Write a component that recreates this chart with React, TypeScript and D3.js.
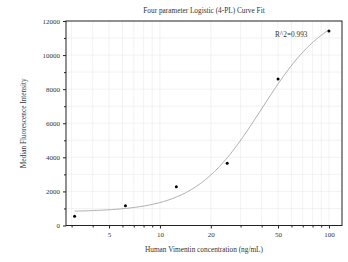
import React, { useEffect, useRef } from 'react';
import * as d3 from 'd3';

// measured standards
const concentrations = [3.125, 6.25, 12.5, 25, 50, 100];
const intensities = [540, 1160, 2280, 3650, 8600, 11410];

// 4-PL fit parameters (bottom, top, ec50, hill slope)
const fitBottom = 800;
const fitTop = 12900;
const fitC = 40;
const fitB = 2.2;

const xTickLabels = [5, 10, 20, 50, 100];
const xMinorTicks = [3, 4, 6, 7, 8, 9, 30, 40, 60, 70, 80, 90];
const yTickLabels = [0, 2000, 4000, 6000, 8000, 10000, 12000];
const yMinorTicks = [1000, 3000, 5000, 7000, 9000, 11000];
const gridX = [3, 4, 5, 6, 7, 8, 9, 10, 20, 30, 40, 50, 60, 70, 80, 90, 100];
const gridY = [1000, 2000, 3000, 4000, 5000, 6000, 7000, 8000, 9000, 10000, 11000];

const rSquared = 'R^2=0.993';

const fourPL = (x: number) => fitTop + (fitBottom - fitTop) / (1 + Math.pow(x / fitC, fitB));

const App: React.FC = () => {
  const svgRef = useRef<SVGSVGElement>(null);

  useEffect(() => {
    const width = 348;
    const height = 262;
    const svg = d3.select(svgRef.current);
    svg.selectAll('*').remove();
    svg.attr('width', width).attr('height', height);

    const left = 66, right = 342, top = 21, bottom = 225.5;
    const font = '"Liberation Serif", "Times New Roman", serif';

    const x = d3.scaleLog().domain([2.78, 119.5]).range([left, right]);
    const y = d3.scaleLinear().domain([0, 12000]).range([bottom, top]);

    svg.append('rect').attr('width', width).attr('height', height).attr('fill', '#fff');

    // grid
    const grid = svg.append('g').attr('stroke', '#ebebeb').attr('stroke-width', 0.6);
    grid.selectAll('.gx').data(gridX).enter().append('line')
      .attr('x1', d => x(d)).attr('x2', d => x(d)).attr('y1', top).attr('y2', bottom);
    grid.selectAll('.gy').data(gridY).enter().append('line')
      .attr('x1', left).attr('x2', right).attr('y1', d => y(d)).attr('y2', d => y(d));

    // fitted curve
    const curvePts = d3.range(0, 201).map(i => {
      const lx = Math.log10(3.125) + (i / 200) * (Math.log10(100) - Math.log10(3.125));
      return Math.pow(10, lx);
    });
    const line = d3.line<number>().x(d => x(d)).y(d => y(fourPL(d)));
    svg.append('path').datum(curvePts).attr('d', line)
      .attr('fill', 'none').attr('stroke', '#999').attr('stroke-width', 0.8);

    // points
    svg.selectAll('.pt').data(concentrations).enter().append('circle')
      .attr('cx', d => x(d)).attr('cy', (d, i) => y(intensities[i]))
      .attr('r', 1.5).attr('fill', '#000');

    // frame
    svg.append('rect').attr('x', left).attr('y', top)
      .attr('width', right - left).attr('height', bottom - top)
      .attr('fill', 'none').attr('stroke', '#222').attr('stroke-width', 1);

    // x axis
    const xAxis = d3.axisBottom(x).tickValues(xTickLabels).tickFormat(d3.format('d')).tickSize(3).tickPadding(4);
    const gx = svg.append('g').attr('transform', `translate(0,${bottom})`).call(xAxis);
    gx.select('.domain').remove();
    gx.selectAll('text').attr('font-family', font).attr('font-size', 7).attr('fill', '#333');
    gx.selectAll('line').attr('stroke', '#222');
    const xMinor = d3.axisBottom(x).tickValues(xMinorTicks).tickFormat(() => '').tickSize(2);
    const gxm = svg.append('g').attr('transform', `translate(0,${bottom})`).call(xMinor);
    gxm.select('.domain').remove();
    gxm.selectAll('line').attr('stroke', '#222');

    // y axis
    const yAxis = d3.axisLeft(y).tickValues(yTickLabels).tickFormat(d3.format('d')).tickSize(3).tickPadding(3);
    const gy = svg.append('g').attr('transform', `translate(${left},0)`).call(yAxis);
    gy.select('.domain').remove();
    gy.selectAll('text').attr('font-family', font).attr('font-size', 7).attr('fill', '#333');
    gy.selectAll('line').attr('stroke', '#222');
    const yMinor = d3.axisLeft(y).tickValues(yMinorTicks).tickFormat(() => '').tickSize(2);
    const gym = svg.append('g').attr('transform', `translate(${left},0)`).call(yMinor);
    gym.select('.domain').remove();
    gym.selectAll('line').attr('stroke', '#222');

    // titles
    svg.append('text').attr('x', 204).attr('y', 12.5).attr('text-anchor', 'middle')
      .attr('font-family', font).attr('font-size', 7.3).attr('fill', '#333')
      .text('Four parameter Logistic (4-PL) Curve Fit');
    svg.append('text').attr('x', 204).attr('y', 251.5).attr('text-anchor', 'middle')
      .attr('font-family', font).attr('font-size', 7.3).attr('fill', '#333')
      .text('Human Vimentin concentration (ng/mL)');
    svg.append('text').attr('transform', `translate(25.5,${(top + bottom) / 2}) rotate(-90)`)
      .attr('text-anchor', 'middle')
      .attr('font-family', font).attr('font-size', 7.3).attr('fill', '#333')
      .text('Median Fluorescence Intensity');
    svg.append('text').attr('x', 275).attr('y', 36.5)
      .attr('font-family', font).attr('font-size', 7.3).attr('fill', '#333')
      .text(rSquared);
  }, []);

  return (
    <div style={{ position: 'absolute', left: 0, top: 0, width: 348, height: 262 }}>
      <svg ref={svgRef} style={{ display: 'block' }} />
    </div>
  );
};

export default App;
